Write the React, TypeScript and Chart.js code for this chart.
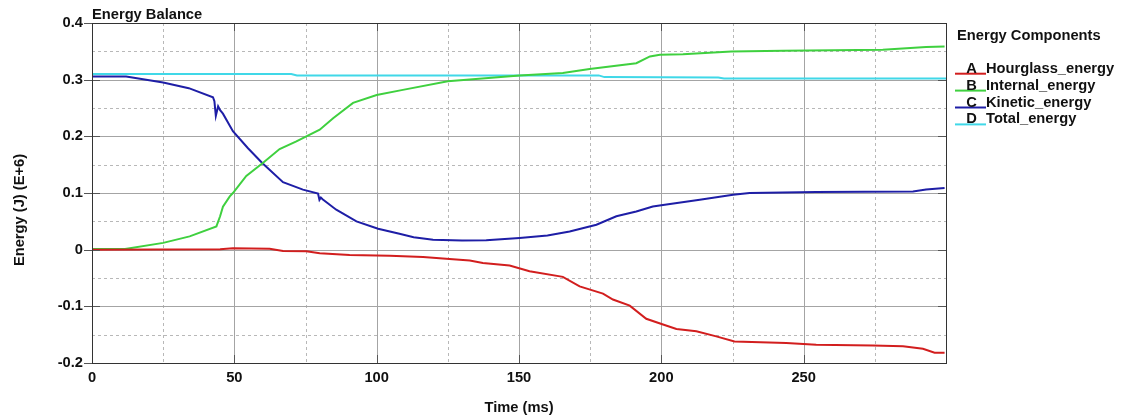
import React, { useEffect, useRef } from "react";
import { Chart, registerables } from "chart.js";

Chart.register(...registerables);

// ---- data (Time in ms, Energy in J x 1E+6) ----
const hourglassTime = [0, 45, 49.5, 62.4, 67.1, 75.3, 80, 90.5, 104.6, 116.3, 125.6, 132.7, 137.3, 146.7, 153.7, 165.4, 171.3, 179.5, 183, 188.9, 194.7, 200.6, 205.3, 212.3, 219.3, 225.7, 243.9, 254.4, 274.3, 284.9, 291.9, 296, 299.5];
const hourglassEnergy = [0, 0.0008, 0.0023, 0.0015, -0.0023, -0.003, -0.0065, -0.0094, -0.0106, -0.013, -0.0164, -0.019, -0.0235, -0.028, -0.038, -0.048, -0.0647, -0.0776, -0.088, -0.0988, -0.122, -0.132, -0.14, -0.144, -0.153, -0.162, -0.1646, -0.168, -0.169, -0.1705, -0.175, -0.182, -0.182];

const internalTime = [0, 11.6, 25, 34.3, 43.7, 45, 46, 48.4, 49.5, 54.2, 60, 65.9, 71.8, 75.3, 80, 84.7, 91.7, 100, 109.2, 125, 150.2, 165.4, 174.8, 191.2, 196, 199.5, 207.6, 224.6, 242.7, 277.8, 293, 299.5];
const internalEnergy = [0.001, 0.001, 0.012, 0.0235, 0.041, 0.059, 0.076, 0.094, 0.1, 0.13, 0.153, 0.1776, 0.191, 0.2, 0.2116, 0.232, 0.259, 0.273, 0.282, 0.297, 0.3075, 0.3116, 0.319, 0.329, 0.341, 0.344, 0.345, 0.3498, 0.351, 0.3527, 0.3575, 0.3586];

const kineticTime = [0, 12, 25, 34, 42.5, 43, 43.5, 44.3, 45, 46, 49.5, 54.8, 59.8, 67.1, 74.1, 79.4, 79.9, 80.4, 81, 85.8, 92.9, 100.5, 108, 113, 119.8, 130, 138.5, 150.2, 160, 167.8, 177.2, 184.2, 191.2, 197, 200.6, 213.5, 225.2, 231, 254.4, 288.4, 293, 299.5];
const kineticEnergy = [0.3057, 0.3057, 0.295, 0.285, 0.269, 0.262, 0.236, 0.253, 0.246, 0.24, 0.209, 0.179, 0.153, 0.119, 0.106, 0.099, 0.088, 0.092, 0.089, 0.0705, 0.05, 0.037, 0.028, 0.022, 0.0176, 0.016, 0.0165, 0.0206, 0.025, 0.032, 0.044, 0.059, 0.0675, 0.076, 0.079, 0.088, 0.097, 0.1, 0.1017, 0.1028, 0.106, 0.1088];

const totalTime = [0, 70, 72, 178, 180, 220, 222, 300];
const totalEnergy = [0.31, 0.31, 0.3075, 0.3075, 0.3045, 0.304, 0.302, 0.302];

const seriesLetters = ["A", "B", "C", "D"];
const seriesNames = ["Hourglass_energy", "Internal_energy", "Kinetic_energy", "Total_energy"];
const seriesColors = ["#d21e1e", "#3fd03f", "#1e1ea6", "#40d8e8"];

const xMajorTicks = [50, 100, 150, 200, 250];
const xMinorTicks = [25, 75, 125, 175, 225, 275];
const yMajorTicks = [0.3, 0.2, 0.1, 0, -0.1];
const yMinorTicks = [0.35, 0.25, 0.15, 0.05, -0.05, -0.15];

const chartTitle = "Energy Balance";
const legendTitle = "Energy Components";
const xTitle = "Time (ms)";
const yTitle = "Energy (J) (E+6)";

const FAMILY = "'Liberation Sans', Arial, sans-serif";
const FONT = `bold 14.7px ${FAMILY}`;

const toPoints = (xs: number[], ys: number[]) => xs.map((x, i) => ({ x, y: ys[i] }));

const decorPlugin = {
  id: "decor",
  beforeDatasetsDraw(chart: any) {
    const { ctx, chartArea, scales } = chart;
    const { left, right, top, bottom } = chartArea;
    const xs = scales.x;
    const ys = scales.y;
    ctx.save();
    ctx.lineWidth = 1;
    // minor dashed grid
    ctx.setLineDash([3, 3]);
    ctx.strokeStyle = "#b8b8b8";
    xMinorTicks.forEach((v) => {
      const px = Math.round(xs.getPixelForValue(v)) + 0.5;
      ctx.beginPath();
      ctx.moveTo(px, top);
      ctx.lineTo(px, bottom);
      ctx.stroke();
    });
    yMinorTicks.forEach((v) => {
      const py = Math.round(ys.getPixelForValue(v)) + 0.5;
      ctx.beginPath();
      ctx.moveTo(left, py);
      ctx.lineTo(right, py);
      ctx.stroke();
    });
    // major solid grid
    ctx.setLineDash([]);
    ctx.strokeStyle = "#a4a4a4";
    xMajorTicks.forEach((v) => {
      const px = Math.round(xs.getPixelForValue(v)) + 0.5;
      ctx.beginPath();
      ctx.moveTo(px, top);
      ctx.lineTo(px, bottom);
      ctx.stroke();
    });
    yMajorTicks.forEach((v) => {
      const py = Math.round(ys.getPixelForValue(v)) + 0.5;
      ctx.beginPath();
      ctx.moveTo(left, py);
      ctx.lineTo(right, py);
      ctx.stroke();
    });
    ctx.restore();
  },
  afterDatasetsDraw(chart: any) {
    const { ctx, chartArea, scales } = chart;
    const { left, right, top, bottom } = chartArea;
    const xs = scales.x;
    const ys = scales.y;
    ctx.save();
    ctx.setLineDash([]);
    // tick marks
    ctx.strokeStyle = "#555";
    ctx.lineWidth = 1;
    xMajorTicks.forEach((v) => {
      const px = Math.round(xs.getPixelForValue(v)) + 0.5;
      ctx.beginPath();
      ctx.moveTo(px, bottom);
      ctx.lineTo(px, bottom - 8);
      ctx.moveTo(px, top);
      ctx.lineTo(px, top + 8);
      ctx.stroke();
    });
    [...yMajorTicks, 0.4, -0.2].forEach((v) => {
      const py = Math.round(ys.getPixelForValue(v)) + 0.5;
      ctx.beginPath();
      ctx.moveTo(left - 8, py);
      ctx.lineTo(left + 8, py);
      ctx.moveTo(right, py);
      ctx.lineTo(right - 8, py);
      ctx.stroke();
    });
    // frame
    ctx.strokeStyle = "#333";
    ctx.strokeRect(Math.round(left) + 0.5, Math.round(top) + 0.5, Math.round(right - left), Math.round(bottom - top));

    // texts
    ctx.fillStyle = "#111";
    ctx.font = FONT;
    ctx.textAlign = "left";
    ctx.textBaseline = "alphabetic";
    ctx.fillText(chartTitle, left, 19);

    ctx.textAlign = "center";
    ctx.textBaseline = "middle";
    ctx.fillText(xTitle, (left + right) / 2, 408);
    ctx.save();
    ctx.translate(19.5, 210);
    ctx.rotate(-Math.PI / 2);
    ctx.fillText(yTitle, 0, 0);
    ctx.restore();

    // legend
    ctx.textAlign = "left";
    ctx.textBaseline = "alphabetic";
    ctx.fillText(legendTitle, 957, 39.5);
    seriesNames.forEach((name, i) => {
      const base = 72.7 + i * 16.9;
      ctx.strokeStyle = seriesColors[i];
      ctx.lineWidth = 2;
      ctx.beginPath();
      ctx.moveTo(955, base + 1);
      ctx.lineTo(986, base + 1);
      ctx.stroke();
      ctx.fillStyle = "#111";
      ctx.textAlign = "center";
      ctx.fillText(seriesLetters[i], 971.5, base);
      ctx.textAlign = "left";
      ctx.fillText(name, 986, base);
    });
    ctx.restore();
  },
};

export default function App() {
  const canvasRef = useRef<HTMLCanvasElement | null>(null);

  useEffect(() => {
    const canvas = canvasRef.current;
    if (!canvas) return;
    const series = [
      toPoints(hourglassTime, hourglassEnergy),
      toPoints(internalTime, internalEnergy),
      toPoints(kineticTime, kineticEnergy),
      toPoints(totalTime, totalEnergy),
    ];
    const chart = new Chart(canvas, {
      type: "line",
      data: {
        datasets: series.map((data, i) => ({
          label: seriesNames[i],
          data,
          borderColor: seriesColors[i],
          backgroundColor: seriesColors[i],
          borderWidth: 2,
          pointRadius: 0,
          tension: 0,
          fill: false,
        })),
      },
      options: {
        animation: false,
        responsive: true,
        maintainAspectRatio: false,
        layout: { padding: { left: 0, right: 175, top: 23, bottom: 0 } },
        plugins: {
          legend: { display: false },
          title: { display: false },
          tooltip: { enabled: false },
        },
        scales: {
          x: {
            type: "linear",
            min: 0,
            max: 300,
            grid: { display: false, drawTicks: false },
            border: { display: false },
            ticks: {
              stepSize: 50,
              padding: 6,
              color: "#111",
              font: { family: FAMILY, size: 14.7, weight: "bold" },
              maxRotation: 0,
              autoSkip: false,
              callback: (v: any) => (Number(v) === 300 ? "" : String(v)),
            },
            afterFit: (s: any) => {
              s.height = 56;
            },
          },
          y: {
            type: "linear",
            min: -0.2,
            max: 0.4,
            grid: { display: false, drawTicks: false },
            border: { display: false },
            ticks: {
              stepSize: 0.1,
              padding: 9,
              color: "#111",
              font: { family: FAMILY, size: 14.7, weight: "bold" },
              autoSkip: false,
              callback: (v: any) => String(Math.round(Number(v) * 10) / 10),
            },
            afterFit: (s: any) => {
              s.width = 92;
            },
          },
        },
      },
      plugins: [decorPlugin],
    } as any);
    return () => chart.destroy();
  }, []);

  return (
    <div style={{ position: "fixed", left: 0, top: 0, width: 1121, height: 419, background: "#fff" }}>
      <canvas ref={canvasRef} />
    </div>
  );
}
